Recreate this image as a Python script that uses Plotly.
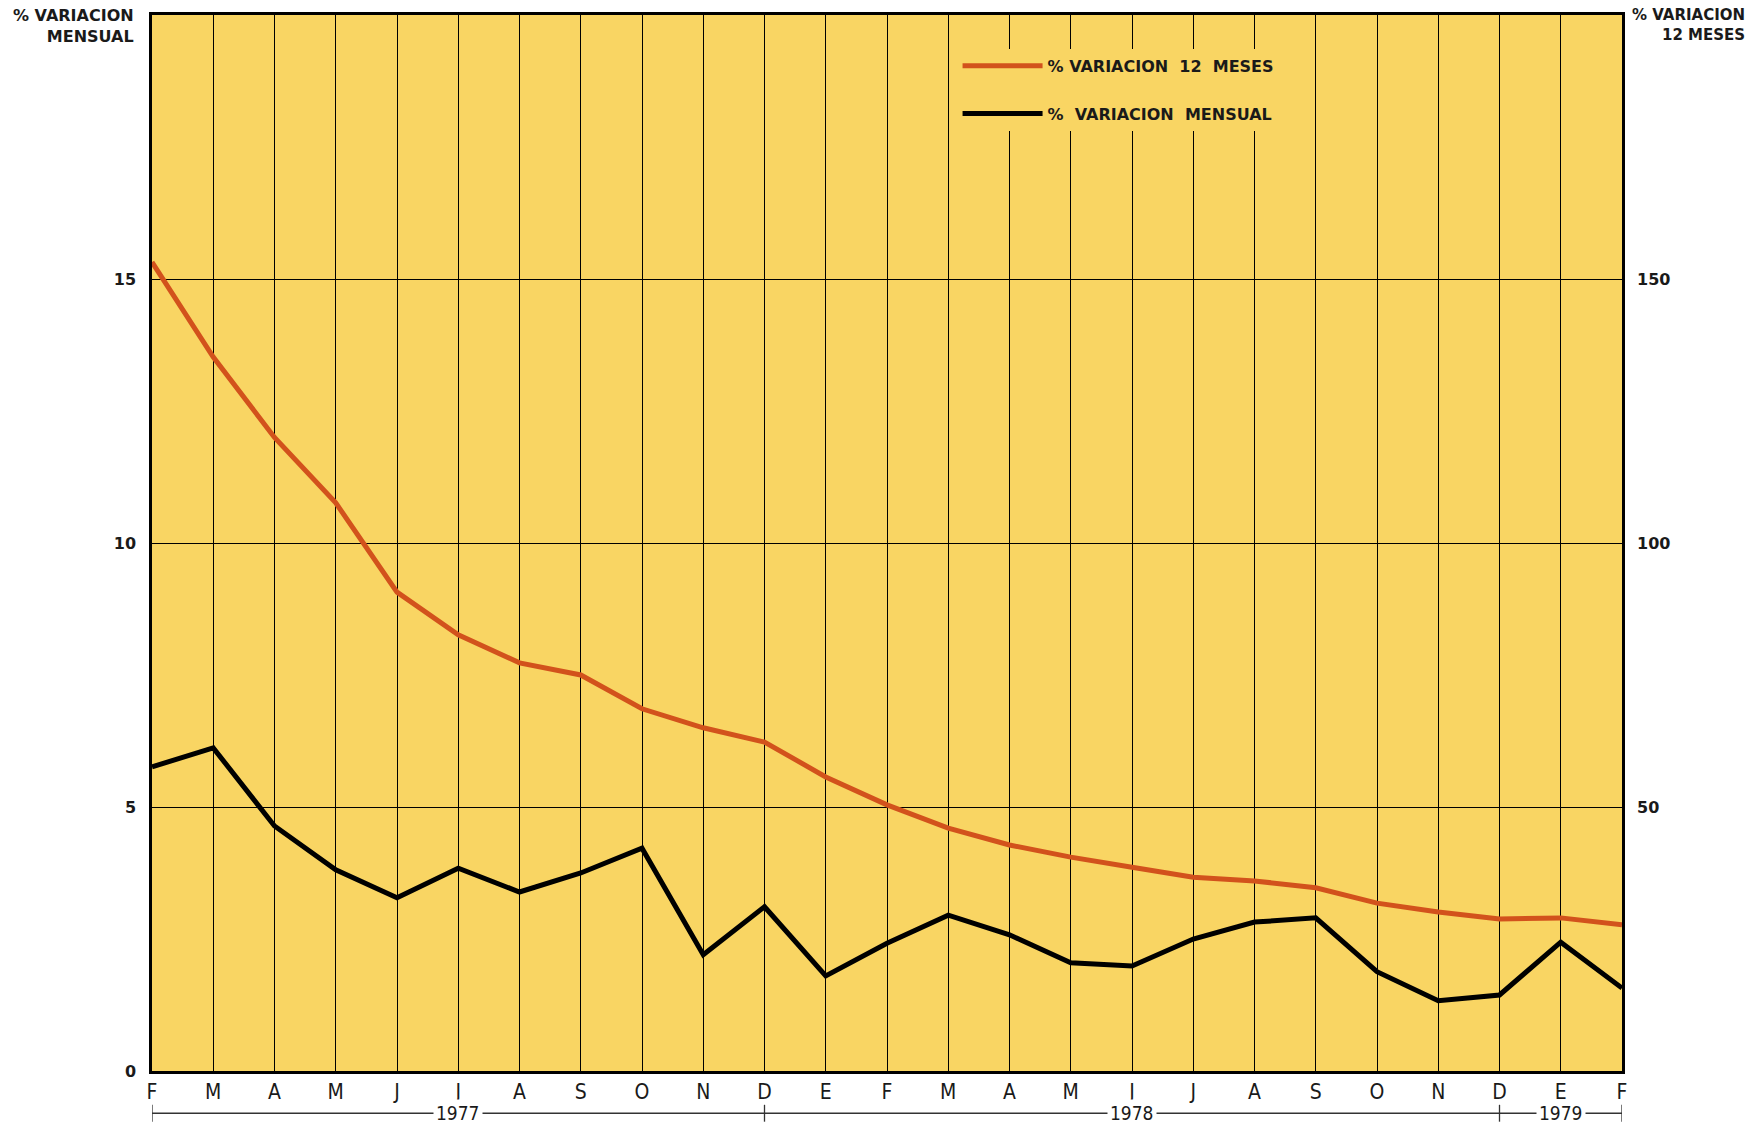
import plotly.graph_objects as go

# ---- data ----
months = ["F", "M", "A", "M", "J", "J", "A", "S", "O", "N", "D", "E",
          "F", "M", "A", "M", "J", "J", "A", "S", "O", "N", "D", "E", "F"]
var_12_meses = [153.2, 135.2, 120.0, 107.6, 90.7, 82.6, 77.3, 75.0, 68.6, 65.0,
                62.3, 55.7, 50.4, 46.0, 42.8, 40.5, 38.6, 36.7, 36.0, 34.7,
                31.8, 30.1, 28.8, 29.0, 27.7]
var_mensual = [5.76, 6.12, 4.64, 3.81, 3.28, 3.84, 3.39, 3.75, 4.22, 2.20,
               3.11, 1.80, 2.42, 2.95, 2.58, 2.05, 1.99, 2.50, 2.82, 2.90,
               1.88, 1.33, 1.44, 2.44, 1.57]
years = ["1977", "1978", "1979"]
year_spans = [(0, 10), (10, 22), (22, 24)]   # month index ranges per year label
left_ticks = [0, 5, 10, 15]
right_ticks = [50, 100, 150]

YELLOW = "#F9D563"
RED = "#D2521C"
INK = "#1a1a1a"
SANS = "DejaVu Sans, sans-serif"
NARROW = "DejaVu Sans Condensed, Liberation Sans Narrow, sans-serif"
x = list(range(len(months)))

fig = go.Figure()
fig.add_trace(go.Scatter(
    x=x, y=var_12_meses, yaxis="y2", mode="lines",
    name="%\u00a0VARIACION\u00a0\u00a012\u00a0\u00a0MESES",
    line=dict(color=RED, width=5), legendgroup="a",
))
fig.add_trace(go.Scatter(
    x=x, y=var_mensual, mode="lines",
    name="%\u00a0\u00a0VARIACION\u00a0\u00a0MENSUAL",
    line=dict(color="black", width=5), legendgroup="b",
))

fig.update_layout(
    width=1753, height=1123,
    margin=dict(l=152, r=131, t=15, b=52, autoexpand=False),
    paper_bgcolor="white",
    plot_bgcolor=YELLOW,
    showlegend=True,
    legend=dict(
        x=0.548, y=0.968, xanchor="left", yanchor="top",
        bgcolor=YELLOW, borderwidth=0,
        font=dict(family=SANS, size=16, color=INK, weight=600),
        itemwidth=80, tracegroupgap=24,
    ),
    xaxis=dict(
        range=[0, 24], tickmode="array", tickvals=x, ticktext=months,
        showgrid=True, gridcolor="black", gridwidth=1.3,
        showline=True, linecolor="black", linewidth=2.5, mirror=True,
        ticks="", zeroline=False,
        tickfont=dict(family=NARROW, size=21, color=INK),
    ),
    yaxis=dict(
        range=[0, 20], tickmode="array", tickvals=left_ticks,
        showgrid=True, gridcolor="black", gridwidth=1.3,
        showline=True, linecolor="black", linewidth=2.5, mirror=True,
        ticks="", zeroline=False, ticklabelstandoff=10,
        tickfont=dict(family=SANS, size=16, color=INK, weight=600),
    ),
    yaxis2=dict(
        range=[0, 200], overlaying="y", side="right", tickmode="array",
        tickvals=right_ticks, showgrid=False, zeroline=False, ticks="",
        ticklabelstandoff=14,
        tickfont=dict(family=SANS, size=16, color=INK, weight=600),
    ),
)

# axis titles
fig.add_annotation(xref="paper", yref="paper", x=-0.011, y=1.010,
                   xanchor="right", yanchor="top", showarrow=False, align="right",
                   text="<b>%\u00a0VARIACION<br>MENSUAL</b>",
                   font=dict(family=SANS, size=16, color=INK))
fig.add_annotation(xref="paper", yref="paper", x=1.085, y=1.010,
                   xanchor="right", yanchor="top", showarrow=False, align="right",
                   text="<b>%\u00a0VARIACION<br>12 MESES</b>",
                   font=dict(family=SANS, size=15, color=INK))

# year brackets below the month labels
ybr = -0.040
for label, (a, b) in zip(years, year_spans):
    fig.add_shape(type="line", xref="x", yref="paper", x0=a, x1=b, y0=ybr, y1=ybr,
                  line=dict(color="#333", width=1.3))
    fig.add_annotation(xref="x", yref="paper", x=(a + b) / 2, y=ybr,
                       text=label, showarrow=False, bgcolor="white",
                       borderpad=2, yanchor="middle",
                       font=dict(family=NARROW, size=19, color=INK))
for xb in sorted({v for s in year_spans for v in s}):
    fig.add_shape(type="line", xref="x", yref="paper", x0=xb, x1=xb,
                  y0=ybr - 0.008, y1=ybr + 0.008, line=dict(color="#333", width=1.3))

fig.write_html("out.html",
               config={"displayModeBar": False},
               post_script="document.body.style.margin='0px';"
                           "document.body.style.overflow='hidden';")
